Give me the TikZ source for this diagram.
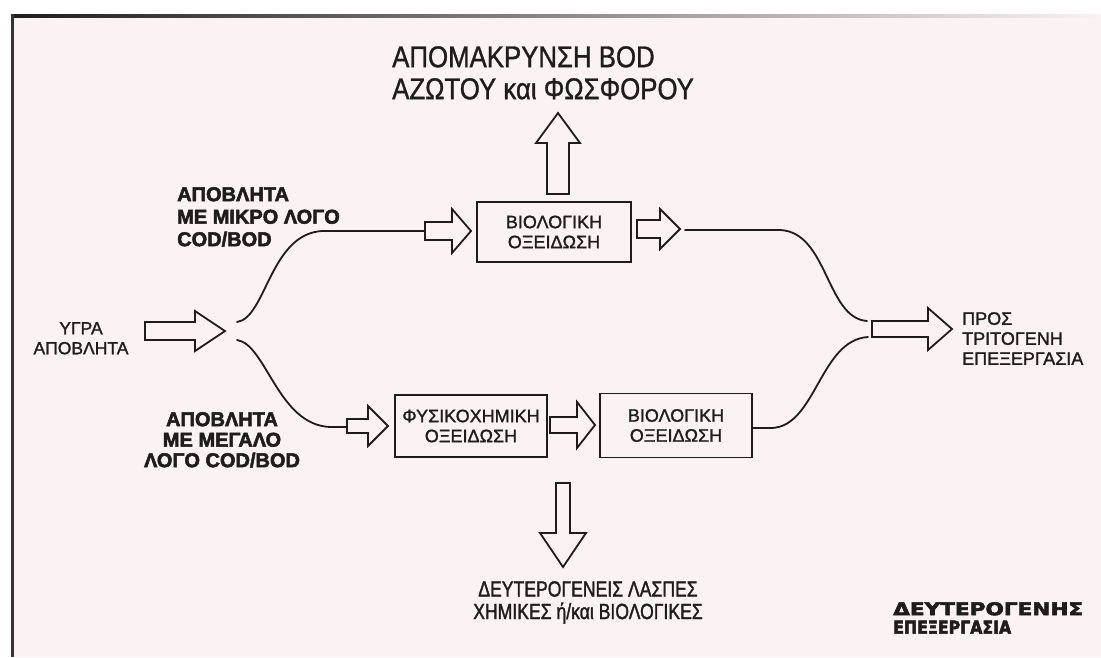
\documentclass[tikz,border=0pt]{standalone}
\usepackage{fontspec}
\usepackage{graphicx}
\setmainfont{Liberation Sans}
\newfontfamily\topfont[FakeStretch=0.86,FakeBold=1]{Liberation Sans}
\newfontfamily\botfont[FakeStretch=0.8,FakeBold=1.5]{Liberation Sans}
\newfontfamily\medfont[FakeBold=1.4]{Liberation Sans}
\newfontfamily\heavyfont[FakeBold=2.5]{Liberation Sans Bold}
\newfontfamily\logofont[FakeBold=3]{DejaVu Sans Bold}
\definecolor{paper}{RGB}{251,243,243}
\definecolor{ink}{RGB}{30,28,28}
\tikzset{
  lbl/.style={inner sep=0pt, text=ink},
  procbox/.style={draw=ink, line width=1.8pt, fill=paper, inner sep=0pt, align=center,
    text=ink, font=\medfont\fontsize{18}{20}\selectfont},
  flowline/.style={draw=ink, line width=1.8pt, line cap=round},
  barrowline/.style={draw=ink, line width=1.8pt, fill=paper, line join=miter},
  pics/barrow/.style args={#1/#2/#3/#4}{code={
    \draw[barrowline] (0,-#3) -- (#1,-#3) -- (#1,-#4) -- (#2,0) -- (#1,#4) -- (#1,#3) -- (0,#3) -- cycle;}}
}
\begin{document}
\begin{tikzpicture}[x=1pt,y=-1pt]
\useasboundingbox (0,0) rectangle (1101,657);
% background and frame
\fill[white] (0,0) rectangle (1101,657);
\fill[paper] (11,15) rectangle (1101,657);
\shade[left color=ink, right color=paper] (11,14) rectangle (1101,17);
\fill[ink!90] (11,14) rectangle (14,657);

% texts
\node[lbl, font=\topfont\fontsize{30}{32}\selectfont, align=left, anchor=north west] (removal) at (392,46)
  {ΑΠΟΜΑΚΡΥΝΣΗ BOD\\ΑΖΩΤΟΥ και ΦΩΣΦΟΡΟΥ};
\node[lbl, font=\heavyfont\fontsize{20}{22.5}\selectfont, align=left, anchor=north west] (lowratio) at (177,187)
  {ΑΠΟΒΛΗΤΑ\\ΜΕ ΜΙΚΡΟ ΛΟΓΟ\\COD/BOD};
\node[lbl, font=\heavyfont\fontsize{20}{20.5}\selectfont, align=center, anchor=north] (highratio) at (222,412)
  {ΑΠΟΒΛΗΤΑ\\ΜΕ ΜΕΓΑΛΟ\\ΛΟΓΟ COD/BOD};
\node[lbl, font=\medfont\fontsize{17.5}{20}\selectfont, align=center, anchor=north] (influent) at (81,322)
  {ΥΓΡΑ\\ΑΠΟΒΛΗΤΑ};
\node[lbl, font=\medfont\fontsize{18}{20}\selectfont, align=left, anchor=north west] (tertiary) at (962,312)
  {ΠΡΟΣ\\ΤΡΙΤΟΓΕΝΗ\\ΕΠΕΞΕΡΓΑΣΙΑ};
\node[lbl, font=\botfont\fontsize{22}{22.5}\selectfont, align=center, anchor=north] (sludge) at (588,581)
  {ΔΕΥΤΕΡΟΓΕΝΕΙΣ ΛΑΣΠΕΣ\\ΧΗΜΙΚΕΣ ή/και ΒΙΟΛΟΓΙΚΕΣ};
\node[lbl, font=\logofont\fontsize{18}{18.5}\selectfont, align=left, anchor=north west] (title) at (893,602)
  {\resizebox{190pt}{13pt}{ΔΕΥΤΕΡΟΓΕΝΗΣ}\\\resizebox{118pt}{13pt}{ΕΠΕΞΕΡΓΑΣΙΑ}};

% boxes
\node[procbox, minimum width=154pt, minimum height=60pt] (bio1) at (554,232) {ΒΙΟΛΟΓΙΚΗ\\ΟΞΕΙΔΩΣΗ};
\node[procbox, minimum width=152pt, minimum height=62pt] (chem) at (471,426) {ΦΥΣΙΚΟΧΗΜΙΚΗ\\ΟΞΕΙΔΩΣΗ};
\node[procbox, minimum width=152pt, minimum height=64pt] (bio2) at (676,425.5) {ΒΙΟΛΟΓΙΚΗ\\ΟΞΕΙΔΩΣΗ};

% block arrows
\pic at (145,331) {barrow=50/80/9/20};
\pic at (425,231) {barrow=27/46/9/22};
\pic at (637,229) {barrow=23/43/9/20};
\pic at (347,426) {barrow=21/41/7/20};
\pic at (550,425) {barrow=27/45/8/23};
\pic at (872,329) {barrow=56/80/8/21};
\pic[rotate=90] at (558,194) {barrow=51/81/11/22};
\pic[rotate=-90] at (563,483) {barrow=50/84/7/23};

% connector end points
\coordinate (splitU) at (237,322);
\coordinate (splitL) at (237,340);
\coordinate (bioInU) at (425,231);
\coordinate (chemIn) at (347,427);
\coordinate (bioOutU) at (685,230);
\coordinate (mergeU) at (867,321);
\coordinate (mergeL) at (868,337);

% flow curves
\draw[flowline] (splitU) .. controls (266,318) and (270,234) .. (322,231) -- (bioInU);
\draw[flowline] (splitL) .. controls (266,344) and (278,425) .. (330,427) -- (chemIn);
\draw[flowline] (bioOutU) -- (780,230) .. controls (828,232) and (826,318) .. (mergeU);
\draw[flowline] (bio2.east |- 0,428) -- (772,428) .. controls (816,426) and (820,340) .. (mergeL);
\end{tikzpicture}
\end{document}
